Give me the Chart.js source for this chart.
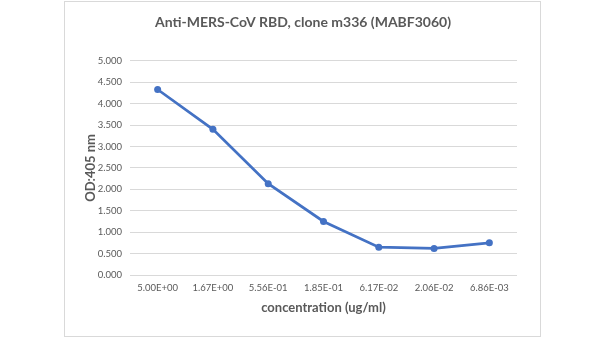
<!DOCTYPE html>
<html>
<head>
<meta charset="utf-8">
<script src="https://cdn.jsdelivr.net/npm/chart.js@4.4.1/dist/chart.umd.min.js"></script>
<style>
  html, body { margin: 0; padding: 0; background: #fff; }
  #wrap { width: 600px; height: 338px; position: relative; }
</style>
</head>
<body>
<div id="wrap"><canvas id="chart" width="600" height="338"></canvas></div>
<script>
// Data
var concLabels = ['5.00E+00', '1.67E+00', '5.56E-01', '1.85E-01', '6.17E-02', '2.06E-02', '6.86E-03'];
var odValues = [4.33, 3.40, 2.13, 1.25, 0.65, 0.62, 0.75];
var yTicks = [0, 0.5, 1, 1.5, 2, 2.5, 3, 3.5, 4, 4.5, 5];

var textColor = '#595959';
var fontName = 'Lato, "Open Sans", sans-serif';

// light grey frame around the whole chart
var framePlugin = {
    id: 'frame',
    beforeDraw: function (chart) {
        var ctx = chart.ctx;
        ctx.save();
        ctx.fillStyle = '#fff';
        ctx.fillRect(0, 0, chart.width, chart.height);
        ctx.strokeStyle = '#d9d9d9';
        ctx.lineWidth = 1;
        ctx.strokeRect(64.5, 1.5, 476, 335);
        ctx.restore();
    }
};

var ctx = document.getElementById('chart').getContext('2d');
var chart = new Chart(ctx, {
    type: 'line',
    data: {
        labels: concLabels,
        datasets: [{
            label: 'OD:405 nm',
            data: odValues,
            borderColor: '#4472c4',
            backgroundColor: '#4472c4',
            borderWidth: 2.75,
            pointRadius: 3.5,
            pointBorderWidth: 0,
            pointBackgroundColor: '#4472c4',
            tension: 0
        }]
    },
    options: {
        responsive: false,
        animation: false,
        layout: { padding: { left: 89, right: 83, top: 0, bottom: 22 } },
        plugins: {
            legend: { display: false },
            tooltip: { enabled: false },
            title: {
                display: true,
                text: 'Anti-MERS-CoV RBD, clone m336 (MABF3060)',
                color: textColor,
                font: { family: fontName, size: 14, weight: 'bold' },
                padding: { top: 14, bottom: 30 }
            }
        },
        scales: {
            x: {
                offset: true,
                grid: { display: false, drawTicks: false },
                border: { display: false },
                ticks: {
                    color: textColor,
                    font: { family: fontName, size: 9.5 },
                    padding: 7,
                    maxRotation: 0
                },
                title: {
                    display: true,
                    text: 'concentration (ug/ml)',
                    color: textColor,
                    font: { family: fontName, size: 13, weight: 'bold' },
                    padding: { top: 0, bottom: 0 }
                }
            },
            y: {
                min: 0,
                max: 5,
                afterBuildTicks: function (scale) {
                    scale.ticks = yTicks.map(function (v) { return { value: v }; });
                },
                afterFit: function (scale) { scale.width = 41; },
                grid: { color: '#d9d9d9', lineWidth: 1, drawTicks: false },
                border: { display: false },
                ticks: {
                    color: textColor,
                    font: { family: fontName, size: 9.5 },
                    padding: 8,
                    callback: function (v) { return Number(v).toFixed(3); }
                },
                title: {
                    display: true,
                    text: 'OD:405 nm',
                    color: textColor,
                    font: { family: fontName, size: 13, weight: 'bold' },
                    padding: { top: -6, bottom: 0 }
                }
            }
        }
    },
    plugins: [framePlugin]
});
</script>
</body>
</html>
